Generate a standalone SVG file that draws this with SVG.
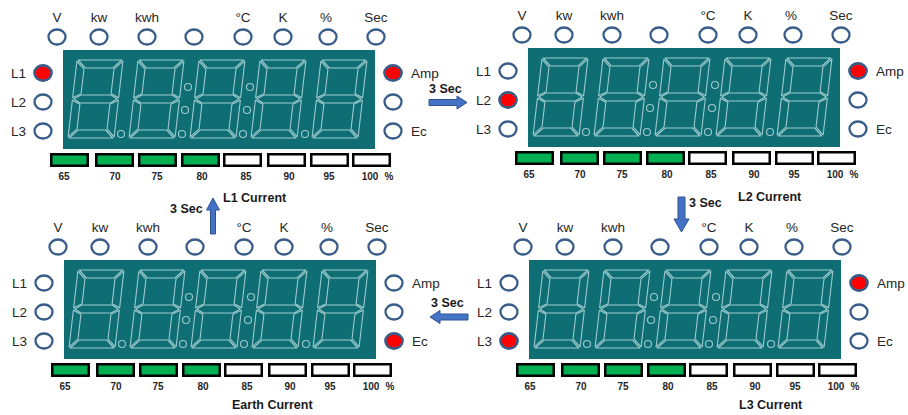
<svg xmlns="http://www.w3.org/2000/svg" width="908" height="415" viewBox="0 0 908 415">
<style>
.lbl{font-family:"Liberation Sans",Arial,sans-serif;font-size:13.5px;fill:#262626}
.bl{font-family:"Liberation Sans",Arial,sans-serif;font-size:10px;font-weight:bold;fill:#262626;text-anchor:middle}
.cap{font-family:"Liberation Sans",Arial,sans-serif;font-size:12.5px;font-weight:bold;fill:#1a1a1a}
.ind{fill:#fff;stroke:#385D8A;stroke-width:2.3}
.on{fill:#FF0000}
.seg{fill:none;stroke:#9DCBCE;stroke-width:1.1;stroke-linejoin:round}
.bar{stroke:#000;stroke-width:2.5}
.g{fill:#00B050}
.w{fill:#fff}
.arr{fill:#4472C4;stroke:#2F528F;stroke-width:1}
.mid{text-anchor:middle}
</style>
<defs>
<g id="dg" class="seg">
<polygon points="1.2,0 44.8,0 36.8,8 9.2,8"/>
<polygon points="0,1.2 8,9.2 8,33.8 0,37.8"/>
<polygon points="46,1.2 46,37.8 38,33.8 38,9.2"/>
<polygon points="1.2,39 8,35 38,35 44.8,39 38,43 8,43"/>
<polygon points="0,40.2 8,44.2 8,68.8 0,76.8"/>
<polygon points="46,40.2 46,76.8 38,68.8 38,44.2"/>
<polygon points="1.2,78 9.2,70 36.8,70 44.8,78"/>
</g>
<g id="panel">
<rect x="63" y="50" width="312" height="99" fill="#0E6E74"/>
<use href="#dg" transform="translate(77,60) skewX(-6.58)"/>
<use href="#dg" transform="translate(138,60) skewX(-6.58)"/>
<use href="#dg" transform="translate(199,60) skewX(-6.58)"/>
<use href="#dg" transform="translate(260,60) skewX(-6.58)"/>
<use href="#dg" transform="translate(321,60) skewX(-6.58)"/>
<g class="seg">
<circle cx="121" cy="134" r="3.5"/>
<circle cx="182" cy="134" r="3.5"/>
<circle cx="243" cy="134" r="3.5"/>
<circle cx="305" cy="134" r="3.5"/>
<circle cx="188" cy="87" r="3.5"/>
<circle cx="185" cy="110" r="3.5"/>
<circle cx="250" cy="87" r="3.5"/>
<circle cx="247" cy="110" r="3.5"/>
</g>
<g class="lbl mid">
<text x="57" y="21.5">V</text>
<text x="99" y="21.5">kw</text>
<text x="147" y="21.5">kwh</text>
<text x="243" y="21.5">°C</text>
<text x="283" y="21.5">K</text>
<text x="326" y="21.5">%</text>
<text x="376" y="21.5">Sec</text>
</g>
<g class="ind">
<ellipse cx="57" cy="37" rx="8.5" ry="7.5"/>
<ellipse cx="99" cy="37" rx="8.5" ry="7.5"/>
<ellipse cx="147" cy="37" rx="8.5" ry="7.5"/>
<ellipse cx="194" cy="37" rx="8.5" ry="7.5"/>
<ellipse cx="243" cy="37" rx="8.5" ry="7.5"/>
<ellipse cx="283" cy="37" rx="8.5" ry="7.5"/>
<ellipse cx="328" cy="37" rx="8.5" ry="7.5"/>
<ellipse cx="376" cy="37" rx="8.5" ry="7.5"/>
<ellipse cx="43" cy="73" rx="8.5" ry="7.5"/>
<ellipse cx="43" cy="102" rx="8.5" ry="7.5"/>
<ellipse cx="43" cy="131" rx="8.5" ry="7.5"/>
<ellipse cx="393" cy="73" rx="8.5" ry="7.5"/>
<ellipse cx="393" cy="102" rx="8.5" ry="7.5"/>
<ellipse cx="393" cy="131" rx="8.5" ry="7.5"/>
</g>
<g class="lbl">
<text x="11" y="78">L1</text>
<text x="11" y="107">L2</text>
<text x="11" y="136">L3</text>
<text x="411" y="78">Amp</text>
<text x="411" y="136">Ec</text>
</g>
<g class="bar">
<rect class="g" x="51.25" y="154.25" width="36.5" height="11.5"/>
<rect class="g" x="96.25" y="154.25" width="36.5" height="11.5"/>
<rect class="g" x="139.25" y="154.25" width="36.5" height="11.5"/>
<rect class="g" x="182.25" y="154.25" width="36.5" height="11.5"/>
<rect class="w" x="224.25" y="154.25" width="36.5" height="11.5"/>
<rect class="w" x="268.25" y="154.25" width="36.5" height="11.5"/>
<rect class="w" x="311.25" y="154.25" width="36.5" height="11.5"/>
<rect class="w" x="353.25" y="154.25" width="36.5" height="11.5"/>
</g>
<g class="bl">
<text x="64" y="180">65</text>
<text x="115" y="180">70</text>
<text x="157" y="180">75</text>
<text x="202" y="180">80</text>
<text x="246" y="180">85</text>
<text x="289" y="180">90</text>
<text x="329" y="180">95</text>
<text x="370" y="180">100</text>
<text x="389" y="180">%</text>
</g>
</g>
</defs>
<g id="panel-l1" transform="translate(0,0)">
<use href="#panel"/>
<ellipse class="ind on" cx="43" cy="73" rx="8.5" ry="7.5"/>
<ellipse class="ind on" cx="393" cy="73" rx="8.5" ry="7.5"/>
<text class="cap" x="223" y="201.5">L1 Current</text>
</g>
<g id="panel-l2" transform="translate(465,-2)">
<use href="#panel"/>
<ellipse class="ind on" cx="43" cy="102" rx="8.5" ry="7.5"/>
<ellipse class="ind on" cx="393" cy="73" rx="8.5" ry="7.5"/>
<text class="cap" x="273" y="203">L2 Current</text>
</g>
<g id="panel-earth" transform="translate(1,210)">
<use href="#panel"/>
<ellipse class="ind on" cx="393" cy="131" rx="8.5" ry="7.5"/>
<text class="cap" x="231" y="199">Earth Current</text>
</g>
<g id="panel-l3" transform="translate(466,210)">
<use href="#panel"/>
<ellipse class="ind on" cx="43" cy="131" rx="8.5" ry="7.5"/>
<ellipse class="ind on" cx="393" cy="73" rx="8.5" ry="7.5"/>
<text class="cap" x="273" y="199">L3 Current</text>
</g>
<g id="connectors">
<polygon class="arr" points="429,99.5 457,99.5 457,96 467,102.5 457,109 457,105.5 429,105.5"/>
<text class="cap" x="429" y="93">3 Sec</text>
<polygon class="arr" points="678,197 685,197 685,219 689,219 681.5,232 674,219 678,219"/>
<text class="cap" x="689" y="207">3 Sec</text>
<polygon class="arr" points="468,314 440,314 440,310.5 430,317 440,323.5 440,320 468,320"/>
<text class="cap" x="431" y="307">3 Sec</text>
<polygon class="arr" points="213,198 219.5,210 215.5,210 215.5,234 210.5,234 210.5,210 206.5,210"/>
<text class="cap" x="170" y="213">3 Sec</text>
</g>
</svg>
